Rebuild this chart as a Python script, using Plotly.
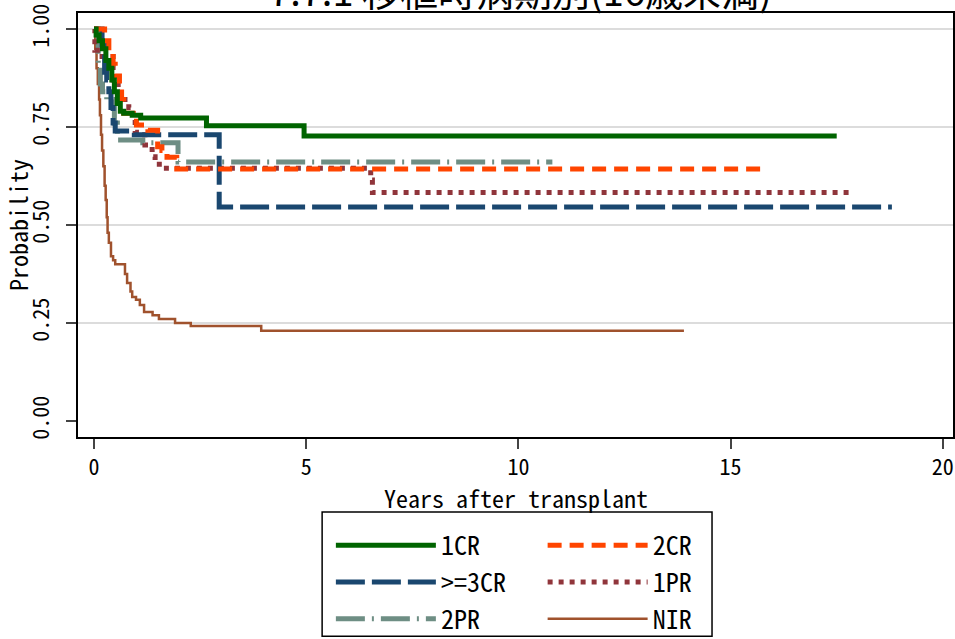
import plotly.graph_objects as go

TITLE = "7.7.1 移植時病期別(16歳未満)"
X_TITLE = "Years after transplant"
Y_TITLE = "Probability"

# Kaplan-Meier step estimates: (time, survival after time)
cr1_t = [0, 0.05, 0.12, 0.20, 0.28, 0.35, 0.42, 0.48, 0.55, 0.62, 0.70, 0.90, 1.10, 2.65, 4.95, 17.5]
cr1_p = [1.0, 0.985, 0.97, 0.95, 0.92, 0.90, 0.87, 0.84, 0.81, 0.79, 0.785, 0.78, 0.773, 0.753, 0.727, 0.727]

cr2_t = [0, 0.25, 0.35, 0.45, 0.50, 0.60, 0.65, 0.70, 0.92, 1.00, 1.27, 1.50, 1.60, 1.72, 1.95, 15.8]
cr2_p = [1.0, 0.97, 0.94, 0.91, 0.88, 0.85, 0.82, 0.785, 0.775, 0.755, 0.742, 0.70, 0.69, 0.673, 0.643, 0.643]

cr3_t = [0, 0.19, 0.25, 0.30, 0.35, 0.40, 0.45, 0.50, 0.95, 2.95, 18.8]
cr3_p = [1.0, 0.96, 0.89, 0.87, 0.84, 0.80, 0.76, 0.74, 0.73, 0.546, 0.546]

pr1_t = [0, 0.02, 0.19, 0.45, 0.57, 0.61, 0.82, 0.92, 0.97, 1.13, 1.20, 1.37, 1.44, 1.63, 6.52, 6.56, 17.9]
pr1_p = [1.0, 0.946, 0.93, 0.87, 0.85, 0.82, 0.80, 0.77, 0.737, 0.73, 0.704, 0.674, 0.655, 0.645, 0.615, 0.583, 0.583]

pr2_t = [0, 0.10, 0.15, 0.20, 0.30, 0.48, 0.55, 1.15, 1.98, 10.8]
pr2_p = [1.0, 0.91, 0.86, 0.84, 0.82, 0.76, 0.717, 0.71, 0.661, 0.661]

nir_t = [0, 0.03, 0.06, 0.09, 0.12, 0.14, 0.165, 0.19, 0.22, 0.25, 0.275, 0.30, 0.32, 0.35, 0.40,
         0.45, 0.50, 0.73, 0.78, 0.86, 0.90, 0.99, 1.08, 1.18, 1.38, 1.53, 1.91, 2.28, 3.94, 13.9]
nir_p = [1.0, 0.95, 0.90, 0.86, 0.82, 0.78, 0.73, 0.69, 0.65, 0.60, 0.564, 0.52, 0.48, 0.455, 0.42,
         0.41, 0.40, 0.375, 0.352, 0.33, 0.316, 0.309, 0.296, 0.278, 0.27, 0.26, 0.25, 0.242, 0.230, 0.230]

Y_TICKS = [0, 0.25, 0.5, 0.75, 1.0]
Y_TICKTEXT = ["0.00", "0.25", "0.50", "0.75", "1.00"]
X_TICKS = [0, 5, 10, 15, 20]
GRID_Y = [0.25, 0.5, 0.75, 1.0]

FONT = "Noto Sans Mono CJK JP, Liberation Mono, DejaVu Sans Mono, monospace"

series = [
    ("1CR", cr1_t, cr1_p, "#006400", 5, "solid", "legend"),
    ("2CR", cr2_t, cr2_p, "#FF4500", 5, "14px,8px", "legend2"),
    (">=3CR", cr3_t, cr3_p, "#1a476f", 5, "29px,7px", "legend"),
    ("1PR", pr1_t, pr1_p, "#90353b", 5, "5px,6px", "legend2"),
    ("2PR", pr2_t, pr2_p, "#6e8e84", 5, "29px,7px,2px,7px", "legend"),
    ("NIR", nir_t, nir_p, "#a0522d", 2.5, "solid", "legend2"),
]

fig = go.Figure()
order = [5, 4, 3, 2, 1, 0]
for i in order:
    name, t, p, col, w, dash, leg = series[i]
    fig.add_trace(go.Scatter(
        x=t, y=p, mode="lines", name=name, line=dict(color=col, width=w, dash=dash, shape="hv"),
        legend=leg, legendrank=i,
    ))

for g in GRID_Y:
    fig.add_shape(type="line", xref="paper", x0=0, x1=1, yref="y", y0=g, y1=g,
                  line=dict(color="#dcdcdc", width=2), layer="below")

# legend frame
fig.add_shape(type="rect", xref="paper", yref="paper", x0=0.279, x1=0.7246, y0=-0.177, y1=-0.470,
              line=dict(color="black", width=1.5))

# x-axis title as annotation for exact placement
fig.add_annotation(text=X_TITLE, xref="paper", yref="paper", x=0.5, y=-0.143,
                   xanchor="center", yanchor="middle", showarrow=False,
                   font=dict(size=24, family=FONT, color="black"))

fig.update_layout(
    width=955, height=639,
    margin=dict(l=78, r=2, t=13, b=202, autoexpand=False),
    paper_bgcolor="white", plot_bgcolor="white",
    title=dict(text=TITLE, x=0.545, xanchor="center", y=0.99, yanchor="bottom",
               font=dict(family="Noto Sans CJK JP", size=38, color="black")),
    font=dict(family=FONT, color="black"),
    xaxis=dict(range=[-0.377, 20.24], tickvals=X_TICKS, ticks="outside", ticklen=10, tickwidth=1.5,
               showline=True, linecolor="black", linewidth=2, mirror=True, showgrid=False, zeroline=False,
               automargin=False, tickfont=dict(size=22, family=FONT)),
    yaxis=dict(range=[-0.041, 1.041], tickvals=Y_TICKS, ticktext=Y_TICKTEXT, tickangle=-90,
               ticks="outside", ticklen=10, tickwidth=1.5, ticklabelstandoff=8,
               showline=True, linecolor="black", linewidth=2, mirror=True, showgrid=False, zeroline=False,
               automargin=False, tickfont=dict(size=22, family=FONT),
               title=dict(text=Y_TITLE, font=dict(size=24, family=FONT), standoff=3)),
    legend=dict(x=0.289, y=-0.2, xanchor="left", yanchor="top", orientation="v",
                font=dict(size=26, family=FONT), itemwidth=100, bgcolor="rgba(0,0,0,0)",
                tracegroupgap=0, traceorder="normal"),
    legend2=dict(x=0.531, y=-0.2, xanchor="left", yanchor="top", orientation="v",
                 font=dict(size=26, family=FONT), itemwidth=100, bgcolor="rgba(0,0,0,0)",
                 tracegroupgap=0, traceorder="normal"),
    showlegend=True,
)

fig.write_html("out.html", config={"displayModeBar": False},
               post_script="document.body.style.margin='0';")
